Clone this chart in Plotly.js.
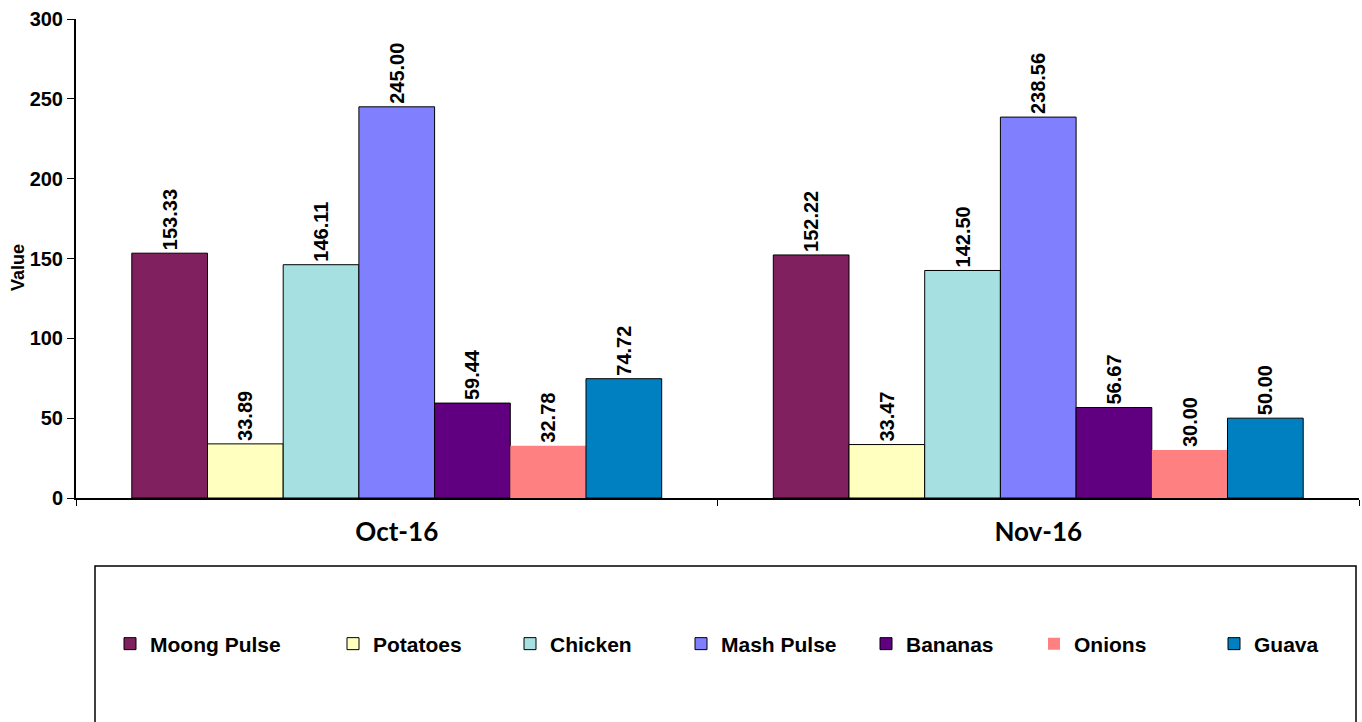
<!DOCTYPE html>
<html>
<head>
<meta charset="utf-8">
<script src="https://cdn.plot.ly/plotly-3.0.1.min.js"></script>
<style>html,body{margin:0;padding:0;background:#fff;}#chart{width:1362px;height:722px;}</style>
</head>
<body>
<div id="chart"></div>
<script>
var categories = ['Oct-16', 'Nov-16'];
var seriesNames = ['Moong Pulse', 'Potatoes', 'Chicken', 'Mash Pulse', 'Bananas', 'Onions', 'Guava'];
var moongPulse = [153.33, 152.22];
var potatoes = [33.89, 33.47];
var chicken = [146.11, 142.50];
var mashPulse = [245.00, 238.56];
var bananas = [59.44, 56.67];
var onions = [32.78, 30.00];
var guava = [74.72, 50.00];
var yTicks = [0, 50, 100, 150, 200, 250, 300];

var seriesValues = [moongPulse, potatoes, chicken, mashPulse, bananas, onions, guava];
var colors = ['#80205F', '#FFFFC0', '#A6E0E0', '#8080FF', '#600080', '#FF8080', '#0080C0'];
var outlined = [true, true, true, true, true, false, true];
// legend swatch left positions in px (layout)
var legendPx = [126, 349, 526, 697, 882, 1050, 1230];

var L = 76, R = 3, T = 19, B = 224;
var W = 1362, H = 722;
var pw = W - L - R, ph = H - T - B;

var traces = seriesNames.map(function (name, i) {
  return {
    type: 'bar',
    name: name,
    x: categories,
    y: seriesValues[i],
    marker: {
      color: colors[i],
      line: { color: '#000', width: outlined[i] ? 1 : 0 }
    },
    texttemplate: '%{y:.2f}',
    textposition: 'outside',
    textangle: -90,
    constraintext: 'none',
    cliponaxis: false,
    textfont: { family: 'Liberation Sans, Arial, sans-serif', size: 20, color: '#000', weight: 'bold' },
    legend: i === 0 ? 'legend' : 'legend' + (i + 1),
    hoverinfo: 'x+y+name'
  };
});

var layout = {
  width: W, height: H,
  margin: { l: L, r: R, t: T, b: B, pad: 0 },
  paper_bgcolor: '#fff', plot_bgcolor: '#fff',
  barmode: 'group',
  bargap: 0.174,
  bargroupgap: 0,
  font: { family: 'Liberation Sans, Arial, sans-serif', color: '#000' },
  xaxis: {
    type: 'category',
    showline: true, linecolor: '#000', linewidth: 2,
    ticks: 'outside', tickson: 'boundaries', ticklen: 6, tickcolor: '#000', tickwidth: 1,
    ticklabelstandoff: 10,
    tickfont: { family: 'Lato, Carlito, sans-serif', size: 26, weight: 'bold', color: '#000' },
    showgrid: false, zeroline: false, fixedrange: true
  },
  yaxis: {
    range: [0, 300],
    tickvals: yTicks,
    showline: true, linecolor: '#000', linewidth: 2,
    ticks: 'outside', ticklen: 7, tickcolor: '#000', tickwidth: 1,
    tickfont: { family: 'Liberation Sans, Arial, sans-serif', size: 20, weight: 'bold', color: '#000' },
    showgrid: false, zeroline: false, fixedrange: true
  },
  showlegend: true,
  annotations: [{
    text: 'Value', textangle: -90,
    xref: 'paper', yref: 'paper',
    x: (18 - L) / pw, y: (H - B - 268) / ph,
    xanchor: 'center', yanchor: 'middle', showarrow: false,
    font: { family: 'Liberation Sans, Arial, sans-serif', size: 18, weight: 'bold', color: '#000' }
  }],
  shapes: [{
    type: 'rect', xref: 'paper', yref: 'paper',
    x0: (95 - L) / pw, x1: (1356 - L) / pw,
    y0: (H - B - 566) / ph, y1: (H - B - 760) / ph,
    line: { color: '#000', width: 1.5 }, fillcolor: 'rgba(0,0,0,0)'
  }]
};

legendPx.forEach(function (px, i) {
  var key = i === 0 ? 'legend' : 'legend' + (i + 1);
  layout[key] = {
    orientation: 'h',
    x: (px - 16 - L) / pw,
    xanchor: 'left',
    y: (H - B - 644) / ph,
    yanchor: 'middle',
    itemwidth: 30,
    bgcolor: 'rgba(0,0,0,0)',
    borderwidth: 0,
    font: { family: 'Liberation Sans, Arial, sans-serif', size: 21, weight: 'bold', color: '#000' }
  };
});

Plotly.newPlot('chart', traces, layout, { displayModeBar: false, staticPlot: true });
</script>
</body>
</html>
